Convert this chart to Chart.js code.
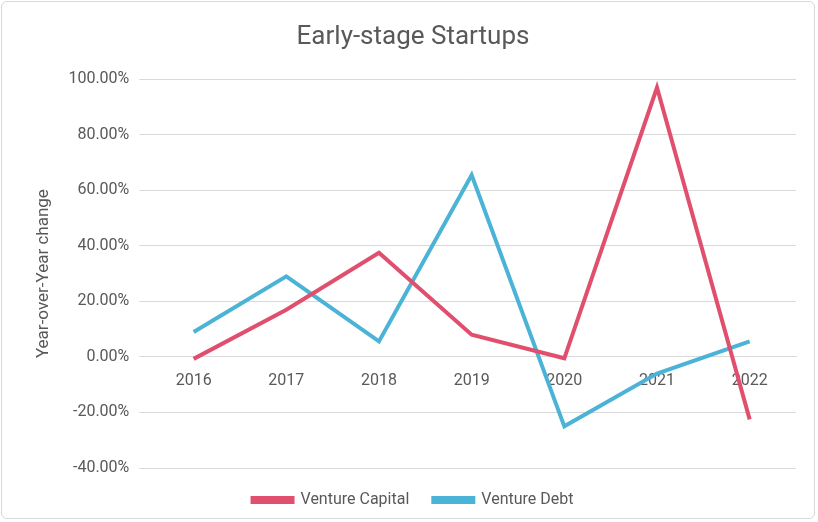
<!DOCTYPE html>
<html lang="en">
<head>
    <meta charset="UTF-8">
    <title>Early-stage Startups</title>
    <script src="https://cdn.jsdelivr.net/npm/chart.js@4.4.0/dist/chart.umd.min.js"></script>
    <style>
        body { margin: 0; background: #fff; }
        .frame { position: absolute; left: 1px; top: 1px; width: 814px; height: 518px; border: 1px solid #d9d9d9; border-radius: 6px; box-sizing: border-box; }
        canvas { display: block; }
    </style>
</head>
<body>
    <div class="frame"><canvas id="chart" width="812" height="516"></canvas></div>
    <script>
        const years = ['2016', '2017', '2018', '2019', '2020', '2021', '2022'];
        const ventureCapital = [-0.7, 17, 37.5, 8, -0.5, 97, -22.5];
        const ventureDebt = [9, 29, 5.6, 65.5, -25, -6, 5.6];

        const grey = '#595959';
        new Chart(document.getElementById('chart'), {
            type: 'line',
            data: {
                labels: years,
                datasets: [
                    { label: 'Venture Capital', data: ventureCapital, borderColor: '#E0506E', backgroundColor: '#E0506E', borderWidth: 4, pointRadius: 0, tension: 0 },
                    { label: 'Venture Debt', data: ventureDebt, borderColor: '#4BB4D6', backgroundColor: '#4BB4D6', borderWidth: 4, pointRadius: 0, tension: 0 }
                ]
            },
            options: {
                responsive: false,
                animation: false,
                layout: { padding: { left: 28, right: 18, top: 4, bottom: 0 } },
                plugins: {
                    title: { display: true, text: 'Early-stage Startups', color: grey, font: { family: 'Roboto', size: 26, weight: 'normal' }, padding: { top: 16, bottom: 26 } },
                    legend: { position: 'bottom', labels: { color: grey, font: { family: 'Roboto', size: 16 }, boxWidth: 40, boxHeight: 4, padding: 24 } },
                    tooltip: { enabled: false }
                },
                scales: {
                    x: {
                        position: { y: 0 },
                        offset: true,
                        grid: { display: false },
                        border: { color: '#d9d9d9' },
                        ticks: { color: grey, font: { family: 'Roboto', size: 16 }, padding: 6 }
                    },
                    y: {
                        min: -40, max: 100,
                        ticks: { stepSize: 20, color: grey, font: { family: 'Roboto', size: 16 }, padding: 10, callback: v => v.toFixed(2) + '%' },
                        grid: { color: '#d9d9d9' },
                        border: { display: false },
                        title: { display: true, text: 'Year-over-Year change', color: grey, font: { family: 'Roboto', size: 17 } }
                    }
                }
            }
        });
    </script>
</body>
</html>
